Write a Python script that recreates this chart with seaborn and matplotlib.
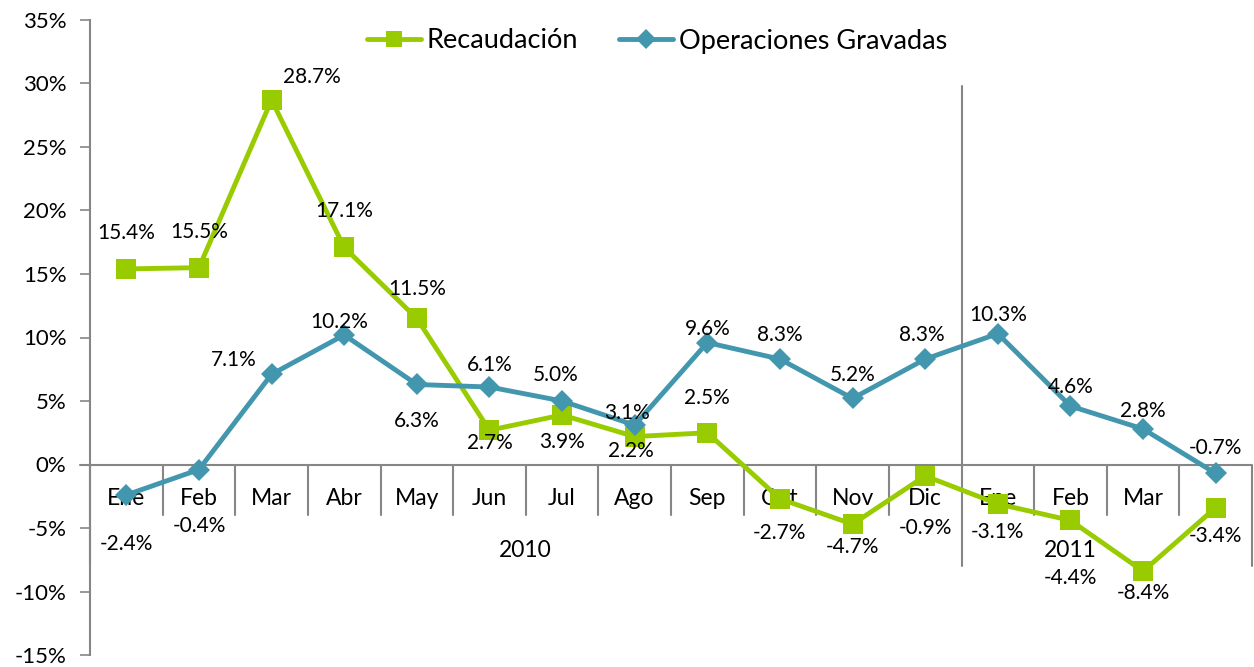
import matplotlib
matplotlib.use("Agg")
import matplotlib.pyplot as plt
import seaborn as sns
import pandas as pd
import numpy as np
from matplotlib.lines import Line2D

# ---- data ----
months = ["Ene", "Feb", "Mar", "Abr", "May", "Jun", "Jul", "Ago", "Sep", "Oct", "Nov", "Dic",
          "Ene", "Feb", "Mar", ""]
years = ["2010", "2011"]
recaudacion = [15.4, 15.5, 28.7, 17.1, 11.5, 2.7, 3.9, 2.2, 2.5, -2.7, -4.7, -0.9,
               -3.1, -4.4, -8.4, -3.4]
operaciones = [-2.4, -0.4, 7.1, 10.2, 6.3, 6.1, 5.0, 3.1, 9.6, 8.3, 5.2, 8.3,
               10.3, 4.6, 2.8, -0.7]
yticks = [-15, -10, -5, 0, 5, 10, 15, 20, 25, 30, 35]

# label offsets (pixels) for data labels
rec_off = [(0, 36), (0, 36), (40, 23), (0, 36), (0, 29), (0, -13), (0, -27), (-4, -14),
           (0, 35), (0, -34), (0, -23), (0, -52), (0, -28), (0, -58), (0, -22), (0, -28)]
ope_off = [(0, -49), (0, -56), (-38, 14), (-5, 13), (0, -37), (0, 22), (-6, 26), (-8, 12),
           (0, 14), (0, 24), (0, 23), (-3, 24), (0, 19), (0, 19), (0, 18), (0, 25)]

GREEN = "#99CC00"
BLUE = "#4297AE"
GREY = "#868686"

sns.set_theme(style="white")
plt.rcParams["font.family"] = ["Lato", "DejaVu Sans"]
plt.rcParams["text.color"] = "black"
plt.rcParams["ytick.labelcolor"] = "black"

n = len(months)
df = pd.DataFrame({
    "x": list(range(n)) * 2,
    "valor": recaudacion + operaciones,
    "serie": ["Recaudación"] * n + ["Operaciones Gravadas"] * n,
})

fig = plt.figure(figsize=(12.54, 6.67), dpi=100)
ax = fig.add_axes([90 / 1254, 1 - 655 / 667, (1252 - 90) / 1254, (655 - 20) / 667])

sns.lineplot(data=df, x="x", y="valor", hue="serie", style="serie",
             palette={"Recaudación": GREEN, "Operaciones Gravadas": BLUE},
             markers={"Recaudación": "s", "Operaciones Gravadas": "D"},
             dashes=False, linewidth=3.5, markersize=14, markeredgewidth=0,
             ax=ax, legend=False, zorder=3)
# slightly smaller diamonds
for line in ax.get_lines():
    if line.get_marker() == "D":
        line.set_markersize(11.5)

ax.set_xlim(-0.5, n - 0.5)
ax.set_ylim(-15, 35)
ax.set_yticks(yticks)
ax.set_yticklabels([f"{t}%" for t in yticks], fontsize=16, color="black")
ax.set_xticks([])
ax.set_xlabel("")
ax.set_ylabel("")
ax.tick_params(axis="y", direction="out", length=7, width=1.2, color=GREY, left=True, pad=10)
for s in ["top", "right", "bottom"]:
    ax.spines[s].set_visible(False)
ax.spines["left"].set_color(GREY)
ax.spines["left"].set_linewidth(1.5)

# x axis line at 0 and category separators
ax.axhline(0, color=GREY, lw=1.5, zorder=1)
ax.plot([-0.5 - 0.14, -0.5], [0, 0], color=GREY, lw=1.5, clip_on=False)
for k in range(n + 1):
    xs = k - 0.5
    if k in (0, 12, n):
        ax.plot([xs, xs], [0, -8.0], color=GREY, lw=1.5, zorder=1, clip_on=False)
    else:
        ax.plot([xs, xs], [0, -3.95], color=GREY, lw=1.5, zorder=1)
ax.plot([11.5, 11.5], [0, 29.8], color=GREY, lw=1.5, zorder=1)

for i, m in enumerate(months):
    ax.text(i, -2.7, m, ha="center", va="center", fontsize=16.5, color="black", zorder=2)
ax.text(5.5, -6.8, years[0], ha="center", va="center", fontsize=16.5, color="black")
ax.text(13, -6.8, years[1], ha="center", va="center", fontsize=16.5, color="black")

for i, v in enumerate(recaudacion):
    ax.annotate(f"{v:.1f}%", (i, v), xytext=rec_off[i], textcoords="offset pixels",
                ha="center", va="center", fontsize=15, color="black", zorder=5)
for i, v in enumerate(operaciones):
    ax.annotate(f"{v:.1f}%", (i, v), xytext=ope_off[i], textcoords="offset pixels",
                ha="center", va="center", fontsize=15, color="black", zorder=5)

handles = [Line2D([], [], color=GREEN, lw=3.5, marker="s", markersize=12, markeredgewidth=0),
           Line2D([], [], color=BLUE, lw=3.5, marker="D", markersize=10, markeredgewidth=0)]
leg = fig.legend(handles, ["Recaudación", "Operaciones Gravadas"], loc="center",
                 bbox_to_anchor=(657 / 1254, 1 - 41 / 667), ncol=2, frameon=False,
                 fontsize=19.5, handlelength=2.0, handletextpad=0.2, columnspacing=1.5,
                 borderpad=0.1)
for t in leg.get_texts():
    t.set_color("black")

fig.savefig("out.png", dpi=100)
